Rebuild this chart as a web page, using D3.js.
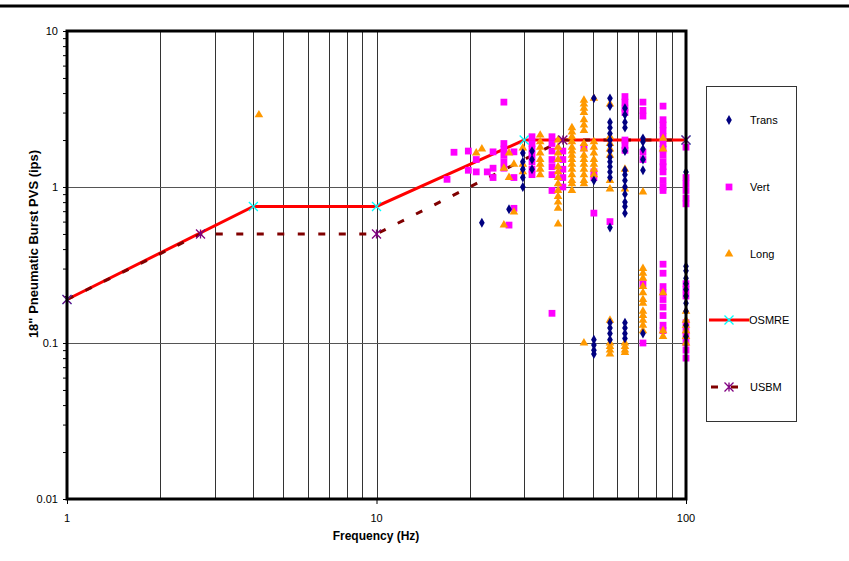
<!DOCTYPE html>
<html>
<head>
<meta charset="utf-8">
<script src="https://cdn.jsdelivr.net/npm/d3@7"></script>
<style>
  body { margin: 0; background: #fff; overflow: hidden; }
  svg { display: block; }
  text { font-family: "Liberation Sans", Arial, sans-serif; }
</style>
</head>
<body>
<svg class="pvs-chart" width="849" height="561"></svg>
<script>
// [frequency Hz, PVS ips]
const trans = [
   [21.9, 0.59], [26.8, 0.72],
   [29.7, 1.65], [29.7, 1.45], [29.7, 1.3], [29.7, 1.15], [29.7, 1.0],
   [31.8, 1.7], [31.8, 1.5], [31.8, 1.3],
   [50.4, 3.7], [50.4, 1.1], [50.4, 0.105], [50.4, 0.097], [50.4, 0.09], [50.4, 0.085],
   [56.8, 3.7], [56.8, 3.3], [56.8, 2.6], [56.8, 2.4], [56.8, 2.2], [56.8, 2.0], [56.8, 1.85],
   [56.8, 1.7], [56.8, 1.55], [56.8, 1.45], [56.8, 1.35], [56.8, 1.25], [56.8, 1.15], [56.8, 0.55],
   [56.8, 0.135], [56.8, 0.125], [56.8, 0.115], [56.8, 0.105],
   [63.5, 3.2], [63.5, 2.9], [63.5, 2.6], [63.5, 2.4], [63.5, 1.7], [63.5, 1.28], [63.5, 1.2],
   [63.5, 1.1], [63.5, 1.0], [63.5, 0.9], [63.5, 0.8], [63.5, 0.75], [63.5, 0.68],
   [63.5, 0.135], [63.5, 0.125], [63.5, 0.115], [63.5, 0.107],
   [72.6, 2.05], [72.6, 1.95], [72.6, 1.75], [72.6, 1.5], [72.6, 1.28], [72.6, 0.115],
   [100, 1.25], [100, 0.31], [100, 0.29], [100, 0.26], [100, 0.24], [100, 0.22], [100, 0.2],
   [100, 0.18], [100, 0.16], [100, 0.13], [100, 0.11]
];

const vert = [
   [16.9, 1.12], [17.8, 1.67], [19.8, 1.7], [19.8, 1.28], [21.0, 1.5], [21.0, 1.25],
   [22.8, 1.25], [23.8, 1.68], [23.8, 1.32], [23.8, 1.15],
   [25.8, 3.5], [25.8, 1.9], [25.8, 1.75], [25.8, 1.6], [25.8, 1.45], [25.8, 1.32],
   [27.8, 1.68], [27.8, 1.15], [27.8, 0.73], [26.8, 0.57],
   [31.8, 2.1], [31.8, 1.9], [31.8, 1.75], [31.8, 1.6], [31.8, 1.45], [31.8, 1.3], [31.8, 1.2],
   [36.9, 2.1], [36.9, 1.9], [36.9, 1.7], [36.9, 1.5], [36.9, 1.35], [36.9, 1.2], [36.9, 0.95], [36.9, 0.155],
   [40, 1.7], [40, 1.5], [40, 1.3], [40, 1.15], [40, 1.0],
   [46.8, 1.78], [50.4, 1.25], [50.4, 1.15], [50.4, 0.68], [56.8, 0.6],
   [63.5, 3.8], [63.5, 3.5], [63.5, 3.2], [63.5, 3.0], [63.5, 2.0], [63.5, 1.85], [63.5, 1.72],
   [72.6, 3.5], [72.6, 3.1], [72.6, 2.85], [72.6, 1.67], [72.6, 1.5], [72.6, 0.24], [72.6, 0.1],
   [84.3, 3.3], [84.3, 2.7], [84.3, 2.5], [84.3, 2.3], [84.3, 2.1], [84.3, 1.9], [84.3, 1.75],
   [84.3, 1.6], [84.3, 1.45], [84.3, 1.35], [84.3, 1.25], [84.3, 1.1], [84.3, 1.0], [84.3, 0.95],
   [84.3, 0.32], [84.3, 0.28], [84.3, 0.23], [84.3, 0.21], [84.3, 0.19], [84.3, 0.17],
   [84.3, 0.15], [84.3, 0.13], [84.3, 0.12],
   [100, 1.8], [100, 1.15], [100, 1.05], [100, 0.95], [100, 0.85], [100, 0.78],
   [100, 0.24], [100, 0.22], [100, 0.2], [100, 0.135], [100, 0.12], [100, 0.11],
   [100, 0.1], [100, 0.09], [100, 0.08]
];

const long = [
   [4.17, 2.9], [21.0, 1.65], [21.9, 1.75], [26.8, 1.65], [25.8, 1.32], [26.8, 1.15],
   [27.8, 1.4], [27.8, 0.69], [25.8, 0.57],
   [29.7, 1.78], [29.7, 1.4], [29.7, 1.25],
   [33.8, 2.15], [33.8, 1.95], [33.8, 1.8], [33.8, 1.65], [33.8, 1.5], [33.8, 1.4], [33.8, 1.3], [33.8, 1.2],
   [38.6, 2.0], [38.6, 1.8], [38.6, 1.65], [38.6, 1.5], [38.6, 1.35], [38.6, 1.25], [38.6, 1.15],
   [38.6, 1.05], [38.6, 0.95], [38.6, 0.87], [38.6, 0.8], [38.6, 0.73], [38.6, 0.58],
   [42.8, 2.4], [42.8, 2.25], [42.8, 2.1], [42.8, 1.95], [42.8, 1.8], [42.8, 1.7], [42.8, 1.6],
   [42.8, 1.5], [42.8, 1.4], [42.8, 1.3], [42.8, 1.2], [42.8, 1.1], [42.8, 1.05], [42.8, 0.95],
   [46.8, 3.6], [46.8, 3.4], [46.8, 3.2], [46.8, 3.0], [46.8, 2.7], [46.8, 2.5], [46.8, 2.3],
   [46.8, 1.9], [46.8, 1.75], [46.8, 1.6], [46.8, 1.5], [46.8, 1.4], [46.8, 1.3], [46.8, 1.2],
   [46.8, 1.1], [46.8, 1.05], [46.8, 0.1],
   [50.4, 3.7], [50.4, 1.95], [50.4, 1.8], [50.4, 1.65], [50.4, 1.5], [50.4, 1.4], [50.4, 1.3], [50.4, 1.2],
   [56.8, 3.4], [56.8, 2.1], [56.8, 1.9], [56.8, 1.75], [56.8, 1.6], [56.8, 1.1], [56.8, 0.97],
   [56.8, 0.14], [56.8, 0.1], [56.8, 0.095], [56.8, 0.09], [56.8, 0.085],
   [63.5, 1.3], [63.5, 0.97], [63.5, 0.1], [63.5, 0.095], [63.5, 0.09], [63.5, 0.087],
   [72.6, 0.93], [72.6, 0.3], [72.6, 0.28], [72.6, 0.26], [72.6, 0.23], [72.6, 0.21], [72.6, 0.19],
   [72.6, 0.18], [72.6, 0.16], [72.6, 0.15], [72.6, 0.14], [72.6, 0.13], [72.6, 0.12],
   [84.3, 2.05], [84.3, 1.75], [84.3, 0.21], [84.3, 0.12], [84.3, 0.11],
   [100, 0.16], [100, 0.14], [100, 0.13], [100, 0.12], [100, 0.11], [100, 0.1]
];

const osmre = [[1, 0.19], [4, 0.75], [10, 0.75], [30, 2], [100, 2]];
const usbm = [[1, 0.19], [2.7, 0.5], [10, 0.5], [40, 2], [100, 2]];

const xTicks = [1, 10, 100];
const yTicks = [0.01, 0.1, 1, 10];
const legendNames = ["Trans", "Vert", "Long", "OSMRE", "USBM"];

const plotL = 67, plotR = 686, plotT = 31, plotB = 499;

const svg = d3.select("svg.pvs-chart");

// rule across the top of the page
svg.append("line")
   .attr("x1", 0).attr("x2", 849).attr("y1", 6).attr("y2", 6)
   .attr("stroke", "#000").attr("stroke-width", 3);

const xScale = d3.scaleLog().domain([1, 100]).range([plotL, plotR]);
const yScale = d3.scaleLog().domain([0.01, 10]).range([plotB, plotT]);

// vertical grid at every minor frequency
const xGrid = [];
for (let d = 1; d < 100; d *= 10)
   for (let k = 2; k <= 10; k++) xGrid.push(d * k);

svg.append("g").selectAll("line")
   .data(xGrid)
   .join("line")
   .attr("x1", d => Math.round(xScale(d)) + 0.5)
   .attr("x2", d => Math.round(xScale(d)) + 0.5)
   .attr("y1", plotT).attr("y2", plotB)
   .attr("stroke", "#333").attr("stroke-width", 1);

svg.append("g").selectAll("line")
   .data([0.1, 1])
   .join("line")
   .attr("x1", plotL).attr("x2", plotR)
   .attr("y1", d => Math.round(yScale(d)) + 0.5)
   .attr("y2", d => Math.round(yScale(d)) + 0.5)
   .attr("stroke", "#555").attr("stroke-width", 1);

// axes
const yMinor = [];
for (let d = 0.01; d < 10; d *= 10)
   for (let k = 1; k <= 10; k++) yMinor.push(+(d * k).toPrecision(3));

svg.append("g")
   .attr("transform", `translate(${plotL},0)`)
   .call(d3.axisLeft(yScale).tickValues(yMinor).tickSize(4).tickFormat(""))
   .call(g => g.select(".domain").remove());

svg.append("g")
   .attr("transform", `translate(0,${plotB})`)
   .call(d3.axisBottom(xScale).tickValues(xTicks).tickSize(5).tickFormat(""))
   .call(g => g.select(".domain").remove());

svg.append("g").selectAll("text")
   .data(yTicks)
   .join("text")
   .attr("x", plotL - 9)
   .attr("y", d => yScale(d) + 4)
   .attr("text-anchor", "end")
   .attr("font-size", 11)
   .text(d => d);

svg.append("g").selectAll("text")
   .data(xTicks)
   .join("text")
   .attr("x", d => xScale(d))
   .attr("y", plotB + 23)
   .attr("text-anchor", "middle")
   .attr("font-size", 11)
   .text(d => d);

svg.append("text")
   .attr("x", 376).attr("y", 540)
   .attr("text-anchor", "middle")
   .attr("font-size", 12).attr("font-weight", "bold")
   .text("Frequency (Hz)");

svg.append("text")
   .attr("transform", "translate(38,244) rotate(-90)")
   .attr("text-anchor", "middle")
   .attr("font-size", 13).attr("font-weight", "bold")
   .text("18\" Pneumatic Burst PVS (ips)");

// limit lines
const line = d3.line().x(d => xScale(d[0])).y(d => yScale(d[1]));

svg.append("path")
   .datum(osmre)
   .attr("d", line)
   .attr("fill", "none").attr("stroke", "#ff0000").attr("stroke-width", 3);

svg.append("path")
   .datum(usbm)
   .attr("d", line)
   .attr("fill", "none").attr("stroke", "#800000").attr("stroke-width", 3)
   .attr("stroke-dasharray", "7,13.5");

// markers
const diamond = d3.symbol().type(d3.symbolDiamond).size(28);
const square = d3.symbol().type(d3.symbolSquare).size(46);
const triangle = d3.symbol().type(d3.symbolTriangle).size(32);

function drawPoints(data, sym, color) {
   svg.append("g").selectAll("path")
      .data(data)
      .join("path")
      .attr("d", sym)
      .attr("transform", d => `translate(${xScale(d[0])},${yScale(d[1])})`)
      .attr("fill", color);
}
drawPoints(vert, square, "#ff00ff");
drawPoints(long, triangle, "#ff9900");
drawPoints(trans, diamond, "#000080");

function xMark(g, cx, cy, color, star) {
   const s = 4.5;
   g.append("path")
      .attr("d", `M${cx - s},${cy - s}L${cx + s},${cy + s}M${cx - s},${cy + s}L${cx + s},${cy - s}` +
         (star ? `M${cx},${cy - s}L${cx},${cy + s}` : ""))
      .attr("stroke", color).attr("stroke-width", 1.3).attr("fill", "none");
}

const marks = svg.append("g");
osmre.forEach(d => xMark(marks, xScale(d[0]), yScale(d[1]), "#00ffff", false));
usbm.forEach(d => xMark(marks, xScale(d[0]), yScale(d[1]), "#800080", true));

// frame
svg.append("rect")
   .attr("x", plotL).attr("y", plotT)
   .attr("width", plotR - plotL).attr("height", plotB - plotT)
   .attr("fill", "none").attr("stroke", "#000").attr("stroke-width", 3);

// legend
const legend = svg.append("g");
legend.append("rect")
   .attr("x", 706.5).attr("y", 86.5).attr("width", 90).attr("height", 335)
   .attr("fill", "#fff").attr("stroke", "#333").attr("stroke-width", 1);

const legendY = [120, 187, 254, 320, 387];
const mx = 729;

legend.append("path").attr("d", diamond)
   .attr("transform", `translate(${mx},${legendY[0]})`).attr("fill", "#000080");
legend.append("path").attr("d", square)
   .attr("transform", `translate(${mx},${legendY[1]})`).attr("fill", "#ff00ff");
legend.append("path").attr("d", triangle)
   .attr("transform", `translate(${mx},${legendY[2]})`).attr("fill", "#ff9900");

legend.append("line")
   .attr("x1", 709).attr("x2", 749).attr("y1", legendY[3]).attr("y2", legendY[3])
   .attr("stroke", "#ff0000").attr("stroke-width", 3);
xMark(legend, mx, legendY[3], "#00ffff", false);

legend.append("line")
   .attr("x1", 711).attr("x2", 738).attr("y1", legendY[4]).attr("y2", legendY[4])
   .attr("stroke", "#800000").attr("stroke-width", 3)
   .attr("stroke-dasharray", "7,13");
xMark(legend, mx, legendY[4], "#800080", true);

legend.selectAll("text.name")
   .data(legendNames)
   .join("text")
   .attr("class", "name")
   .attr("x", (d, i) => i === 3 ? 749 : 750)
   .attr("y", (d, i) => legendY[i] + 4)
   .attr("font-size", 11)
   .text(d => d);
</script>
</body>
</html>
